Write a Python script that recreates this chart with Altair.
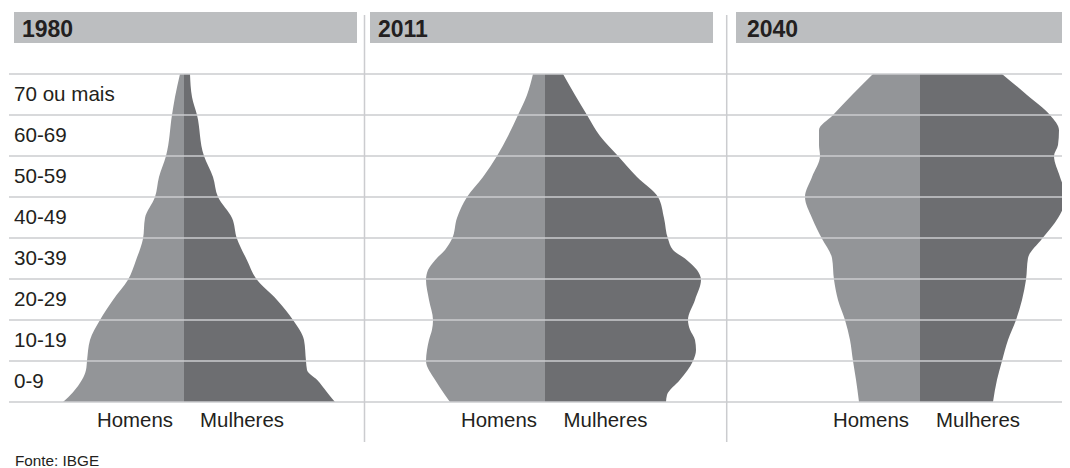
import altair as alt
import pandas as pd

# ---------------- data ----------------
YEARS = ["1980", "2011", "2040"]
AGE_GROUPS = ["0-9", "10-19", "20-29", "30-39", "40-49", "50-59", "60-69", "70 ou mais"]
GROUP_START = [0, 10, 20, 30, 40, 50, 60, 70]
GROUP_EDGES = [0, 10, 20, 30, 40, 50, 60, 70, 80]
SIDES = ["Homens", "Mulheres"]

# profile of each pyramid: age (years) and half-widths (relative units)
AGE_1980 = [0, 2.4, 5.4, 7.8, 10, 15.1, 20, 24.9, 29.8, 34.6, 39.8, 44.9, 50, 54.9, 60, 70, 74.4, 80]
HOMENS_1980 = [121, 111, 102, 98, 97, 94, 84, 71, 56, 48, 41, 39, 29, 25, 18, 12, 9, 4]
MULHERES_1980 = [151, 143, 133, 123, 122, 120, 109, 93, 73, 63, 53, 48, 34, 29, 20, 13, 8, 6]

AGE_2011 = [0, 1.7, 5.4, 10, 12.7, 15.1, 17.6, 20, 24.9, 29.8, 32.2, 34.6, 37.1, 39.8, 44.9, 50,
            54.9, 60, 64.9, 70, 74.9, 80]
HOMENS_2011 = [95, 100, 110, 119, 118, 116, 113, 112, 116, 119, 117, 110, 100, 93, 88, 78,
               62, 48, 37, 27, 18, 12]
MULHERES_2011 = [121, 122, 135, 148, 151, 150, 145, 143, 150, 156, 152, 142, 128, 123, 119, 113,
                 92, 73, 55, 42, 30, 18]

AGE_2040 = [0, 5.4, 10, 15.1, 20, 24.9, 29.8, 35.1, 39.8, 44.9, 50, 54.9, 60, 62.7, 66.3, 70, 74.9, 80]
HOMENS_2040 = [61, 64, 67, 70, 75, 82, 86, 88, 98, 108, 115, 108, 100, 101, 101, 87, 68, 47]
MULHERES_2040 = [73, 77, 82, 88, 96, 102, 106, 108, 122, 138, 146, 140, 134, 138, 139, 130, 107, 82]

SOURCE = "Fonte: IBGE"

# ---------------- layout (pixels) ----------------
W, H = 1054, 460
CENTERS = [176, 537, 912]
HEADER_X = [(6, 349), (362, 705), (728, 1054)]
TITLE_X = [14, 370, 739]
LABEL_X = [(127, 234), (491, 597.5), (863, 970)]
SEPARATORS = [356.5, 718.7]
FONT = "Liberation Sans"
C_MEN = "#939598"
C_WOMEN = "#6d6e71"
C_GRID = "#cbcccf"
C_HEAD = "#bcbec0"
C_TEXT = "#231f20"

profiles = {
    "1980": (AGE_1980, HOMENS_1980, MULHERES_1980),
    "2011": (AGE_2011, HOMENS_2011, MULHERES_2011),
    "2040": (AGE_2040, HOMENS_2040, MULHERES_2040),
}

rows = []
for year, c in zip(YEARS, CENTERS):
    ages, men, women = profiles[year]
    for a, m in zip(ages, men):
        rows.append({"year": year, "side": "Homens", "age": a, "x_lo": c - m, "x_hi": c})
    for a, w in zip(ages, women):
        rows.append({"year": year, "side": "Mulheres", "age": a, "x_lo": c, "x_hi": c + w})
df = pd.DataFrame(rows).sort_values(["year", "side", "age"])

# y scale: 4.1 px per year, age 0 at y=394, age 80 at y=66
px_per_year = 4.1
y0 = -(H - 394) / px_per_year
y1 = y0 + H / px_per_year
yscale = alt.Scale(domain=[y0, y1], nice=False, zero=False)
xscale = alt.Scale(domain=[0, W], nice=False, zero=False)

areas = alt.Chart(df).mark_area(orient="horizontal", interpolate="monotone").encode(
    y=alt.Y("age:Q", scale=yscale, axis=None),
    x=alt.X("x_lo:Q", scale=xscale, axis=None),
    x2="x_hi:Q",
    color=alt.Color("side:N", scale=alt.Scale(domain=SIDES, range=[C_MEN, C_WOMEN]), legend=None),
    detail="year:N",
)

grid = alt.Chart(pd.DataFrame({"edge": GROUP_EDGES})).mark_rule(
    color=C_GRID, strokeWidth=1.5
).encode(
    y=alt.Y("edge:Q", scale=yscale, axis=None),
    x=alt.value(1),
    x2=alt.value(W),
)

ylabels = alt.Chart(pd.DataFrame({"label": AGE_GROUPS, "start": GROUP_START})).transform_calculate(
    mid="datum.start + 5"
).mark_text(align="left", baseline="middle", font=FONT, fontSize=20.6, color=C_TEXT).encode(
    y=alt.Y("mid:Q", scale=yscale, axis=None),
    x=alt.value(6),
    text="label:N",
)

layers = [areas, grid, ylabels]

for i, year in enumerate(YEARS):
    yd = pd.DataFrame({"year": [year]})
    hx0, hx1 = HEADER_X[i]
    layers.append(
        alt.Chart(yd).mark_rect(color=C_HEAD).encode(
            x=alt.value(hx0), x2=alt.value(hx1), y=alt.value(4), y2=alt.value(35)
        )
    )
    layers.append(
        alt.Chart(yd).mark_text(
            align="left", baseline="alphabetic", font=FONT, fontSize=23, fontWeight="bold", color=C_TEXT
        ).encode(x=alt.value(TITLE_X[i]), y=alt.value(29.3), text="year:N")
    )
    for side, lx in zip(SIDES, LABEL_X[i]):
        layers.append(
            alt.Chart(pd.DataFrame({"side": [side]})).mark_text(
                align="center", baseline="alphabetic", font=FONT, fontSize=20.4, color=C_TEXT
            ).encode(x=alt.value(lx), y=alt.value(418.7), text="side:N")
        )

for sx in SEPARATORS:
    layers.append(
        alt.Chart(pd.DataFrame({"k": [1]})).mark_rule(color=C_GRID, strokeWidth=1.5).encode(
            x=alt.value(sx), y=alt.value(7), y2=alt.value(434)
        )
    )

layers.append(
    alt.Chart(pd.DataFrame({"t": [SOURCE]})).mark_text(
        align="left", baseline="alphabetic", font=FONT, fontSize=15.3, color=C_TEXT
    ).encode(x=alt.value(7), y=alt.value(458), text="t:N")
)

chart = alt.layer(*layers).properties(
    width=W, height=H, autosize=alt.AutoSizeParams(type="none"), padding=0, background="white"
).configure_view(stroke=None)

chart.save("out.html", embed_options={"renderer": "svg", "actions": False})
